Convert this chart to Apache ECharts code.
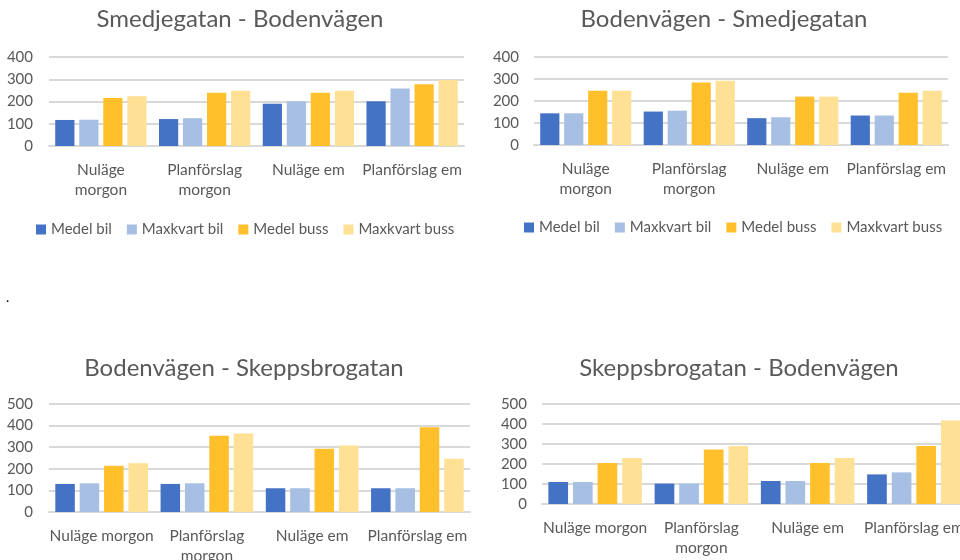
<!DOCTYPE html>
<html>
<head>
<meta charset="utf-8">
<script src="https://cdn.jsdelivr.net/npm/echarts@6/dist/echarts.min.js"></script>
<style>
html,body{margin:0;padding:0;background:#fff;overflow:hidden;}
#main{width:960px;height:560px;}
</style>
</head>
<body>
<div id="main"></div>
<script>
// Categories and series
const categories = ['Nuläge morgon', 'Planförslag morgon', 'Nuläge em', 'Planförslag em'];
const seriesNames = ['Medel bil', 'Maxkvart bil', 'Medel buss', 'Maxkvart buss'];
const titles = ['Smedjegatan - Bodenvägen', 'Bodenvägen - Smedjegatan', 'Bodenvägen - Skeppsbrogatan', 'Skeppsbrogatan - Bodenvägen'];

// Values per chart: one row per series (Medel bil, Maxkvart bil, Medel buss, Maxkvart buss)
const smedjegatanBodenvagen = [
  [117, 121, 190, 201],
  [118, 125, 201, 258],
  [216, 239, 239, 278],
  [224, 248, 248, 297]
];
const bodenvagenSmedjegatan = [
  [144, 152, 122, 134],
  [144, 156, 126, 134],
  [247, 284, 220, 238],
  [247, 292, 220, 247]
];
const bodenvagenSkeppsbrogatan = [
  [130, 130, 110, 110],
  [133, 133, 110, 110],
  [214, 353, 293, 392],
  [226, 364, 308, 246]
];
const skeppsbrogatanBodenvagen = [
  [110, 102, 115, 148],
  [110, 102, 115, 158],
  [205, 273, 205, 290],
  [230, 290, 230, 418]
];
const yTicksTop = { max: 400, interval: 100 };
const yTicksBottom = { max: 500, interval: 100 };

const colors = ['#4472C4', '#A6BFE2', '#FFC02B', '#FFE196'];
const textColor = '#595959';
const gridColor = '#D9D9D9';
const font = 'Lato';

const allData = [smedjegatanBodenvagen, bodenvagenSmedjegatan, bodenvagenSkeppsbrogatan, skeppsbrogatanBodenvagen];

const grids = [
  { left: 49, top: 57, width: 415, height: 89, outerBoundsMode: 'none', containLabel: false },
  { left: 534, top: 57, width: 414, height: 88, outerBoundsMode: 'none', containLabel: false },
  { left: 49, top: 404, width: 421, height: 108, outerBoundsMode: 'none', containLabel: false },
  { left: 542, top: 404, width: 425, height: 100, outerBoundsMode: 'none', containLabel: false }
];
const titlePos = [
  { x: 235, y: 2 },
  { x: 719, y: 2 },
  { x: 239, y: 351 },
  { x: 734, y: 351 }
];
const yMargins = [16, 15, 16, 15];

function wrapTop(v) { return v.replace(' morgon', '\nmorgon'); }
function wrapBottom(v) { return v === 'Planförslag morgon' ? 'Planförslag\nmorgon' : v; }

const legendText = { fontFamily: font, fontSize: 15, color: textColor };

const option = {
  animation: false,
  color: colors,
  title: titles.map((t, i) => ({
    text: t,
    left: titlePos[i].x,
    top: titlePos[i].y,
    textAlign: 'center',
    textStyle: { fontFamily: font, fontSize: 24, fontWeight: 'normal', color: textColor }
  })),
  legend: [
    { left: 31, top: 217, itemWidth: 10, itemHeight: 10, itemGap: 15, icon: 'rect',
      textStyle: legendText, data: seriesNames },
    { left: 519, top: 215, itemWidth: 10, itemHeight: 10, itemGap: 15, icon: 'rect',
      textStyle: legendText, data: seriesNames }
  ],
  grid: grids,
  xAxis: grids.map((g, i) => ({
    type: 'category',
    gridIndex: i,
    data: categories,
    axisLine: { lineStyle: { color: gridColor, width: 2 } },
    axisTick: { show: false },
    axisLabel: {
      interval: 0,
      margin: 14,
      color: textColor,
      fontFamily: font,
      fontSize: 15.5,
      lineHeight: 20,
      hideOverlap: false,
      formatter: i < 2 ? wrapTop : wrapBottom
    }
  })),
  yAxis: grids.map((g, i) => {
    const t = i < 2 ? yTicksTop : yTicksBottom;
    return {
      type: 'value',
      gridIndex: i,
      min: 0,
      max: t.max,
      interval: t.interval,
      axisLine: { show: false },
      axisTick: { show: false },
      splitLine: { lineStyle: { color: gridColor, width: 2 } },
      axisLabel: { margin: yMargins[i], color: textColor, fontFamily: font, fontSize: 15 }
    };
  }),
  graphic: [
    { type: 'text', left: 6, top: 290, style: { text: '.', fill: '#000', font: '14px Lato' } }
  ],
  series: []
};

allData.forEach((rows, ci) => {
  rows.forEach((vals, si) => {
    option.series.push({
      type: 'bar',
      name: seriesNames[si],
      xAxisIndex: ci,
      yAxisIndex: ci,
      data: vals,
      barGap: '25%',
      barCategoryGap: '12%',
      itemStyle: { color: colors[si] }
    });
  });
});

const chart = echarts.init(document.getElementById('main'), null, { renderer: 'canvas' });
chart.setOption(option);
</script>
</body>
</html>
